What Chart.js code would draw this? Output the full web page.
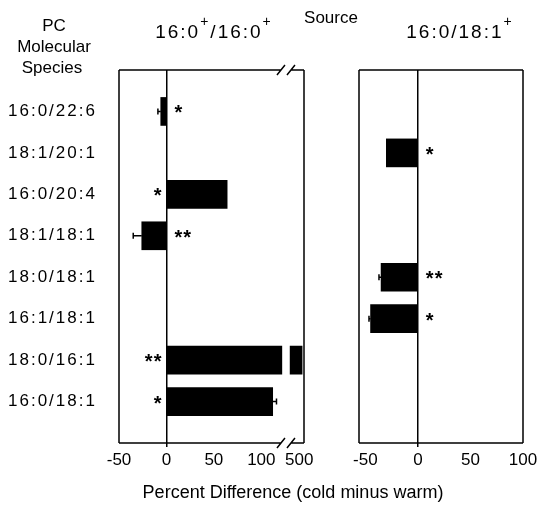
<!DOCTYPE html>
<html>
<head>
<meta charset="utf-8">
<script src="https://cdn.jsdelivr.net/npm/chart.js@4.4.0/dist/chart.umd.min.js"></script>
<style>
  html, body { margin: 0; padding: 0; background: #fff; }
  #wrap { position: relative; width: 541px; height: 506px; }
  #wrap canvas { position: absolute; left: 0; top: 0; }
</style>
</head>
<body>
<div id="wrap">
  <canvas id="leftPanel" width="541" height="506"></canvas>
  <canvas id="rightPanel" width="541" height="506"></canvas>
</div>
<script>
// PC molecular species, top to bottom
const species = ['16:0/22:6', '18:1/20:1', '16:0/20:4', '18:1/18:1', '18:0/18:1', '16:1/18:1', '18:0/16:1', '16:0/18:1'];

// source 16:0+/16:0+
const leftValues = [-6, null, 64, -26, null, null, 530, 112];
const leftErrors = [3, null, null, 9, null, null, null, 4];
const leftStars = ['*', '', '*', '**', '', '', '**', '*'];
const leftStarSide = ['r', '', 'l', 'r', '', '', 'l', 'l'];
const leftTicks = [-50, 0, 50, 100, 500];

// source 16:0/18:1+
const rightValues = [null, -30, null, null, -35, -45, null, null];
const rightErrors = [null, null, null, null, 2, 1.5, null, null];
const rightStars = ['', '*', '', '', '**', '*', '', ''];
const rightStarSide = ['', 'r', '', '', 'r', 'r', '', ''];
const rightTicks = [-50, 0, 50, 100];

const FONT = '"Liberation Sans", Arial, Helvetica, sans-serif';

// broken axis on the left panel: everything above 125 is squeezed after the break
function squash(v) {
  if (v == null) return null;
  return v <= 125 ? v : 140 + (v - 500) * 0.1;
}
const same = v => v;

function txt(ctx, str, x, y, size, opt) {
  opt = opt || {};
  ctx.font = (opt.bold ? 'bold ' : '') + size + 'px ' + FONT;
  ctx.letterSpacing = (opt.sp || 0) + 'px';
  ctx.textAlign = opt.align || 'left';
  ctx.textBaseline = opt.base || 'alphabetic';
  ctx.fillStyle = '#000';
  ctx.fillText(str, x, y);
}

// title with superscript plus signs, pieces = [text, size, rise]
function supTitle(ctx, pieces, cx, y) {
  let total = 0;
  pieces.forEach(p => {
    ctx.font = p[1] + 'px ' + FONT;
    ctx.letterSpacing = '2px';
    p.w = ctx.measureText(p[0]).width;
    total += p.w;
  });
  let x = cx - total / 2;
  pieces.forEach(p => {
    txt(ctx, p[0], x, y + p[2], p[1], { sp: 2 });
    x += p.w;
  });
}

function decor(o) {
  return {
    id: 'decor',
    afterDatasetsDraw(chart) {
      const ctx = chart.ctx, a = chart.chartArea;
      const xs = chart.scales.x, ys = chart.scales.y;
      const zero = xs.getPixelForValue(0);
      ctx.save();

      // gap in the broken bar
      if (o.gap) {
        const g0 = xs.getPixelForValue(o.gap[0]), g1 = xs.getPixelForValue(o.gap[1]);
        ctx.fillStyle = '#fff';
        ctx.fillRect(g0, a.top + 1, g1 - g0, a.bottom - a.top - 2);
      }

      // error bars
      ctx.strokeStyle = '#000';
      ctx.lineWidth = 1.5;
      o.values.forEach((v, i) => {
        const e = o.errors[i];
        if (v == null || e == null) return;
        const y = ys.getPixelForValue(i + 1);
        const x0 = xs.getPixelForValue(o.map(v));
        const x1 = xs.getPixelForValue(o.map(v < 0 ? v - e : v + e));
        ctx.beginPath();
        ctx.moveTo(x0, y); ctx.lineTo(x1, y);
        ctx.moveTo(x1, y - 3); ctx.lineTo(x1, y + 3);
        ctx.stroke();
      });

      // frame
      ctx.lineWidth = 1.5;
      ctx.beginPath();
      if (o.breakAt != null) {
        const bx = xs.getPixelForValue(o.breakAt);
        [a.top, a.bottom].forEach(y => {
          ctx.moveTo(a.left, y); ctx.lineTo(bx - 5, y);
          ctx.moveTo(bx + 5, y); ctx.lineTo(a.right, y);
          ctx.moveTo(bx - 9, y + 5); ctx.lineTo(bx - 1, y - 5);
          ctx.moveTo(bx + 1, y + 5); ctx.lineTo(bx + 9, y - 5);
        });
      } else {
        ctx.moveTo(a.left, a.top); ctx.lineTo(a.right, a.top);
        ctx.moveTo(a.left, a.bottom); ctx.lineTo(a.right, a.bottom);
      }
      ctx.moveTo(a.left, a.top); ctx.lineTo(a.left, a.bottom);
      ctx.moveTo(a.right, a.top); ctx.lineTo(a.right, a.bottom);
      ctx.stroke();

      // significance stars
      o.stars.forEach((s, i) => {
        if (!s) return;
        const y = ys.getPixelForValue(i + 1) + 8;
        if (o.side[i] === 'r') txt(ctx, s, zero + 8, y, 20, { bold: true, sp: 1 });
        else txt(ctx, s, zero - 4, y, 20, { bold: true, sp: 1, align: 'right' });
      });

      // row labels
      if (o.rowLabels) {
        species.forEach((s, i) => {
          txt(ctx, s, 8, ys.getPixelForValue(i + 1), 17, { sp: 2, base: 'middle' });
        });
        txt(ctx, 'PC', 54, 31, 17, { align: 'center' });
        txt(ctx, 'Molecular', 54, 52, 17, { align: 'center' });
        txt(ctx, 'Species', 52, 73, 17, { align: 'center' });
        txt(ctx, 'Source', 331, 23, 17, { align: 'center' });
        txt(ctx, 'Percent Difference (cold minus warm)', 293, 498, 18, { align: 'center' });
      }
      supTitle(ctx, o.title, o.titleX, 38);
      ctx.restore();
    }
  };
}

function makePanel(id, o) {
  return new Chart(document.getElementById(id), {
    type: 'bar',
    data: {
      labels: [''].concat(species, ['']),
      datasets: [{
        data: [null].concat(o.values.map(o.map), [null]),
        backgroundColor: '#000',
        barThickness: 28
      }]
    },
    options: {
      responsive: false,
      animation: false,
      indexAxis: 'y',
      layout: { padding: o.padding },
      plugins: { legend: { display: false }, tooltip: { enabled: false } },
      scales: {
        y: { type: 'category', display: false, offset: false },
        x: {
          type: 'linear',
          min: o.min,
          max: o.max,
          afterBuildTicks: s => { s.ticks = o.ticks.map(v => ({ value: o.map(v) })); },
          afterFit: s => { s.height = 34; },
          border: { display: false },
          grid: {
            color: c => (c.tick && c.tick.value === 0 ? '#000' : 'rgba(0,0,0,0)'),
            lineWidth: 1.5,
            tickLength: 4
          },
          ticks: {
            color: '#000',
            padding: 3,
            autoSkip: false,
            maxRotation: 0,
            font: { family: FONT, size: 17 },
            callback: (val, i) => String(o.ticks[i])
          }
        }
      }
    },
    plugins: [decor(o)]
  });
}

makePanel('leftPanel', {
  values: leftValues, errors: leftErrors, stars: leftStars, side: leftStarSide,
  ticks: leftTicks, map: squash, min: -50, max: 145,
  gap: [122, 130], breakAt: 126, rowLabels: true,
  title: [['16:0', 19, 0], ['+', 14, -12], ['/16:0', 19, 0], ['+', 14, -12]], titleX: 214,
  padding: { left: 119, right: 237, top: 70, bottom: 29 }
});

makePanel('rightPanel', {
  values: rightValues, errors: rightErrors, stars: rightStars, side: rightStarSide,
  ticks: rightTicks, map: same, min: -56, max: 100,
  gap: null, breakAt: null, rowLabels: false,
  title: [['16:0/18:1', 19, 0], ['+', 14, -12]], titleX: 460,
  padding: { left: 359, right: 18, top: 70, bottom: 29 }
});
</script>
</body>
</html>
